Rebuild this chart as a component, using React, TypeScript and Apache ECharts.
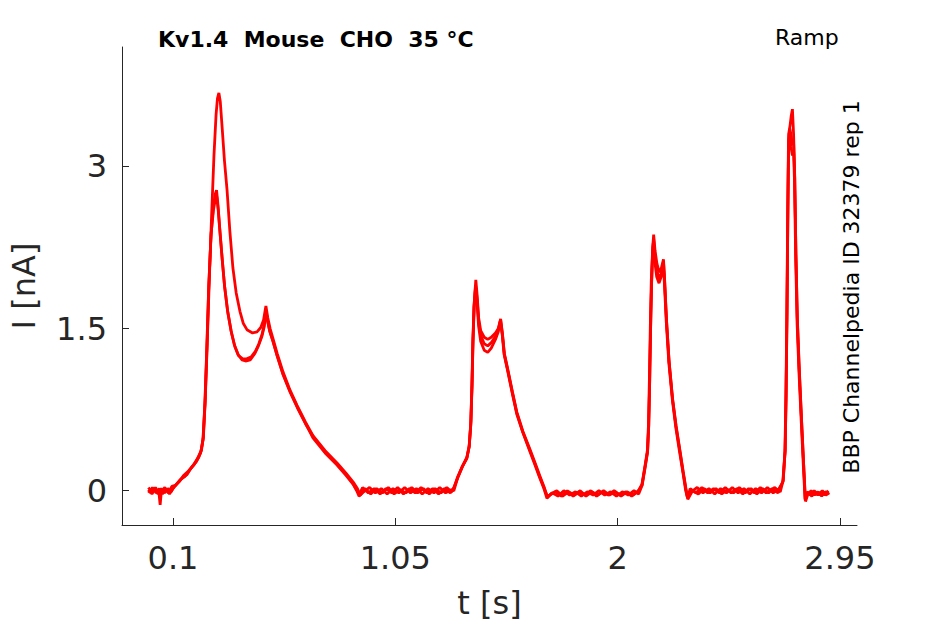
import { useEffect, useRef } from 'react';
import * as echarts from 'echarts';

// x ticks (s) and y ticks (nA) as printed on the axes
const xTicks = [0.1, 1.05, 2, 2.95];
const yTicks = [0, 1.5, 3];

const title = 'Kv1.4  Mouse  CHO  35 °C';
const protocol = 'Ramp';
const sideNote = 'BBP Channelpedia ID 32379 rep 1';

// three sweeps of the ramp protocol, [t (s), I (nA)]
const sweepA: [number, number][] = [
  [-0.005, 0.01], [0.01, -0.03], [0.025, 0.03], [0.04, -0.02], [0.045, -0.13], [0.05, -0.01], [0.065, 0.03], [0.08, -0.02],
  [0.095, 0.04], [0.11, 0.05], [0.13, 0.1], [0.15, 0.13], [0.17, 0.19], [0.19, 0.24], [0.21, 0.31], [0.222, 0.38],
  [0.23, 0.5], [0.238, 0.85], [0.246, 1.35], [0.255, 1.95], [0.265, 2.55], [0.275, 3.1], [0.284, 3.48], [0.29, 3.63],
  [0.296, 3.68], [0.302, 3.6], [0.31, 3.36], [0.32, 3.05], [0.331, 2.78], [0.343, 2.4], [0.356, 2.06], [0.37, 1.83],
  [0.386, 1.66], [0.4, 1.55], [0.416, 1.49], [0.44, 1.46], [0.459, 1.47], [0.475, 1.51], [0.487, 1.58], [0.497, 1.71],
  [0.505, 1.6], [0.515, 1.5], [0.527, 1.41], [0.545, 1.27], [0.57, 1.1], [0.6, 0.93], [0.63, 0.79], [0.665, 0.64],
  [0.698, 0.51], [0.75, 0.37], [0.8, 0.26], [0.84, 0.16], [0.87, 0.08], [0.888, 0.02], [0.9, -0.04],
  [0.92, 0.02], [0.945, -0.03], [0.97, 0.02], [0.995, -0.02], [1.02, 0.03], [1.045, -0.03], [1.07, 0.01], [1.095, -0.02],
  [1.12, 0.03], [1.145, -0.02], [1.17, 0.02], [1.195, -0.03], [1.22, 0.02], [1.245, -0.02], [1.27, 0.03], [1.29, -0.01],
  [1.3, 0.02], [1.315, 0.12], [1.335, 0.22], [1.355, 0.3], [1.365, 0.4], [1.372, 0.6], [1.377, 0.95], [1.381, 1.35],
  [1.386, 1.7], [1.394, 1.95], [1.4, 1.8], [1.406, 1.6], [1.415, 1.48], [1.43, 1.42], [1.445, 1.4], [1.46, 1.42],
  [1.478, 1.46], [1.49, 1.5], [1.5, 1.59], [1.508, 1.45], [1.516, 1.27], [1.53, 1.13], [1.55, 0.92], [1.569, 0.73],
  [1.595, 0.55], [1.624, 0.39], [1.645, 0.27], [1.667, 0.14], [1.685, 0.04], [1.7, -0.06],
  [1.72, -0.02], [1.745, -0.05], [1.77, 0.0], [1.795, -0.04], [1.82, -0.01], [1.845, -0.05], [1.87, -0.01], [1.895, -0.04],
  [1.92, 0.0], [1.945, -0.04], [1.97, -0.01], [1.995, -0.05], [2.02, -0.01], [2.045, -0.04], [2.07, 0.0], [2.09, -0.03],
  [2.105, 0.05], [2.118, 0.22], [2.128, 0.36], [2.133, 0.6], [2.137, 1.0], [2.141, 1.5], [2.145, 1.9], [2.15, 2.25],
  [2.154, 2.37], [2.16, 2.22], [2.168, 2.1], [2.178, 2.02], [2.187, 2.06], [2.196, 2.14], [2.201, 1.95], [2.209, 1.58],
  [2.22, 1.2], [2.235, 0.85], [2.25, 0.6], [2.265, 0.39], [2.28, 0.18], [2.292, 0.02], [2.3, -0.08],
  [2.32, 0.0], [2.345, -0.03], [2.37, 0.02], [2.395, -0.02], [2.42, 0.02], [2.445, -0.03], [2.47, 0.01], [2.495, -0.02],
  [2.52, 0.03], [2.545, -0.02], [2.57, 0.02], [2.595, -0.03], [2.62, 0.02], [2.645, -0.02], [2.67, 0.03], [2.695, -0.01],
  [2.708, 0.1], [2.716, 0.38], [2.72, 0.9], [2.724, 1.7], [2.728, 2.7], [2.731, 3.3], [2.737, 3.38], [2.742, 3.47],
  [2.747, 3.53], [2.752, 3.3], [2.757, 2.9], [2.762, 2.2], [2.768, 1.6], [2.776, 1.15], [2.786, 0.66], [2.795, 0.25],
  [2.803, -0.1], [2.815, -0.02], [2.83, -0.05], [2.845, -0.01], [2.86, -0.04], [2.875, 0.0], [2.89, -0.04], [2.905, -0.02],
];

const sweepB: [number, number][] = [
  [-0.005, -0.02], [0.012, 0.03], [0.028, -0.02], [0.042, 0.02], [0.055, -0.03], [0.07, 0.01], [0.085, -0.03], [0.1, 0.02],
  [0.12, 0.07], [0.14, 0.12], [0.16, 0.15], [0.18, 0.22], [0.2, 0.27], [0.218, 0.35], [0.228, 0.47], [0.236, 0.8],
  [0.244, 1.3], [0.252, 1.85], [0.262, 2.35], [0.272, 2.62], [0.28, 2.74], [0.286, 2.78], [0.292, 2.65], [0.3, 2.42],
  [0.31, 2.15], [0.32, 1.9], [0.333, 1.67], [0.348, 1.48], [0.362, 1.35], [0.378, 1.26], [0.395, 1.21], [0.41, 1.2],
  [0.43, 1.21], [0.45, 1.27], [0.465, 1.34], [0.48, 1.43], [0.49, 1.52], [0.497, 1.67], [0.504, 1.58], [0.513, 1.48],
  [0.525, 1.4], [0.545, 1.25], [0.57, 1.08], [0.6, 0.92], [0.63, 0.78], [0.665, 0.63], [0.698, 0.49], [0.75, 0.35],
  [0.8, 0.24], [0.84, 0.14], [0.87, 0.06], [0.885, 0.0], [0.895, -0.05],
  [0.915, -0.01], [0.94, 0.03], [0.965, -0.02], [0.99, 0.02], [1.015, -0.03], [1.04, 0.02], [1.065, -0.02], [1.09, 0.03],
  [1.115, -0.02], [1.14, 0.02], [1.165, -0.03], [1.19, 0.02], [1.215, -0.02], [1.24, 0.03], [1.265, -0.02], [1.29, 0.01],
  [1.3, 0.0], [1.318, 0.13], [1.338, 0.23], [1.356, 0.31], [1.366, 0.42], [1.373, 0.65], [1.378, 1.0], [1.382, 1.4],
  [1.387, 1.72], [1.393, 1.88], [1.399, 1.75], [1.406, 1.52], [1.415, 1.38], [1.43, 1.3], [1.445, 1.28], [1.46, 1.32],
  [1.478, 1.4], [1.49, 1.47], [1.499, 1.57], [1.507, 1.44], [1.515, 1.26], [1.53, 1.11], [1.55, 0.9], [1.569, 0.71],
  [1.595, 0.54], [1.624, 0.37], [1.645, 0.25], [1.667, 0.12], [1.685, 0.02], [1.698, -0.07],
  [1.715, -0.03], [1.74, 0.0], [1.765, -0.05], [1.79, -0.01], [1.815, -0.04], [1.84, 0.0], [1.865, -0.05], [1.89, -0.01],
  [1.915, -0.04], [1.94, 0.0], [1.965, -0.04], [1.99, -0.01], [2.015, -0.05], [2.04, -0.01], [2.065, -0.04], [2.09, 0.0],
  [2.104, 0.06], [2.117, 0.23], [2.127, 0.37], [2.132, 0.62], [2.136, 1.05], [2.14, 1.55], [2.144, 1.95], [2.149, 2.2],
  [2.153, 2.3], [2.159, 2.12], [2.167, 1.98], [2.177, 1.92], [2.186, 1.98], [2.195, 2.1], [2.2, 1.92], [2.208, 1.56],
  [2.219, 1.18], [2.234, 0.84], [2.249, 0.58], [2.264, 0.37], [2.279, 0.17], [2.291, 0.0], [2.298, -0.06],
  [2.315, -0.01], [2.34, 0.03], [2.365, -0.02], [2.39, 0.02], [2.415, -0.03], [2.44, 0.02], [2.465, -0.02], [2.49, 0.03],
  [2.515, -0.02], [2.54, 0.02], [2.565, -0.03], [2.59, 0.02], [2.615, -0.02], [2.64, 0.03], [2.665, -0.02], [2.69, 0.02],
  [2.706, 0.08], [2.715, 0.36], [2.719, 0.85], [2.723, 1.6], [2.727, 2.6], [2.73, 3.2], [2.735, 3.3], [2.741, 3.18],
  [2.747, 3.1], [2.752, 3.15], [2.756, 2.85], [2.761, 2.15], [2.767, 1.55], [2.775, 1.1], [2.785, 0.63], [2.794, 0.22],
  [2.801, -0.08], [2.812, -0.03], [2.827, 0.0], [2.842, -0.04], [2.857, -0.01], [2.872, -0.05], [2.887, -0.01], [2.902, -0.03],
];

const sweepC: [number, number][] = [
  [-0.005, 0.03], [0.008, -0.01], [0.022, 0.02], [0.036, -0.03], [0.05, 0.02], [0.064, -0.02], [0.078, 0.02], [0.092, -0.01],
  [0.105, 0.04], [0.125, 0.08], [0.145, 0.14], [0.165, 0.18], [0.185, 0.23], [0.205, 0.3], [0.22, 0.37], [0.229, 0.49],
  [0.237, 0.82], [0.245, 1.32], [0.253, 1.9], [0.263, 2.38], [0.273, 2.6], [0.281, 2.7], [0.287, 2.72], [0.293, 2.6],
  [0.301, 2.38], [0.311, 2.12], [0.321, 1.88], [0.334, 1.65], [0.35, 1.46], [0.365, 1.33], [0.38, 1.25], [0.398, 1.22],
  [0.415, 1.22], [0.435, 1.24], [0.452, 1.29], [0.467, 1.36], [0.481, 1.45], [0.49, 1.54], [0.497, 1.65], [0.505, 1.56],
  [0.514, 1.47], [0.526, 1.39], [0.546, 1.24], [0.571, 1.07], [0.601, 0.91], [0.631, 0.77], [0.666, 0.62], [0.699, 0.5],
  [0.75, 0.36], [0.8, 0.25], [0.84, 0.15], [0.868, 0.07], [0.885, 0.01], [0.897, -0.03],
  [0.91, 0.03], [0.935, -0.02], [0.96, 0.02], [0.985, -0.03], [1.01, 0.02], [1.035, -0.02], [1.06, 0.03], [1.085, -0.03],
  [1.11, 0.02], [1.135, -0.02], [1.16, 0.03], [1.185, -0.02], [1.21, 0.02], [1.235, -0.03], [1.26, 0.02], [1.285, -0.02],
  [1.3, 0.03], [1.317, 0.12], [1.336, 0.22], [1.356, 0.3], [1.366, 0.41], [1.373, 0.62], [1.378, 0.98], [1.382, 1.38],
  [1.387, 1.7], [1.393, 1.9], [1.4, 1.76], [1.407, 1.55], [1.416, 1.43], [1.43, 1.36], [1.445, 1.34], [1.46, 1.37],
  [1.478, 1.43], [1.49, 1.49], [1.5, 1.58], [1.508, 1.44], [1.516, 1.26], [1.53, 1.12], [1.55, 0.91], [1.569, 0.72],
  [1.595, 0.54], [1.624, 0.38], [1.645, 0.26], [1.667, 0.13], [1.685, 0.03], [1.699, -0.05],
  [1.71, -0.04], [1.735, -0.01], [1.76, -0.05], [1.785, 0.0], [1.81, -0.05], [1.835, -0.01], [1.86, -0.04], [1.885, 0.0],
  [1.91, -0.05], [1.935, -0.01], [1.96, -0.04], [1.985, 0.0], [2.01, -0.04], [2.035, -0.01], [2.06, -0.05], [2.085, -0.01],
  [2.104, 0.05], [2.117, 0.22], [2.128, 0.36], [2.133, 0.61], [2.137, 1.02], [2.141, 1.52], [2.145, 1.92], [2.15, 2.22],
  [2.154, 2.33], [2.16, 2.16], [2.168, 2.03], [2.178, 1.96], [2.187, 2.02], [2.196, 2.12], [2.201, 1.93], [2.209, 1.57],
  [2.22, 1.19], [2.235, 0.84], [2.25, 0.59], [2.265, 0.38], [2.28, 0.17], [2.292, 0.01], [2.299, -0.07],
  [2.31, 0.02], [2.335, -0.02], [2.36, 0.03], [2.385, -0.02], [2.41, 0.02], [2.435, -0.02], [2.46, 0.03], [2.485, -0.02],
  [2.51, 0.02], [2.535, -0.03], [2.56, 0.02], [2.585, -0.02], [2.61, 0.03], [2.635, -0.02], [2.66, 0.02], [2.685, -0.02],
  [2.707, 0.09], [2.716, 0.37], [2.72, 0.88], [2.724, 1.65], [2.728, 2.65], [2.731, 3.25], [2.736, 3.35], [2.742, 3.28],
  [2.747, 3.2], [2.752, 3.22], [2.757, 2.88], [2.762, 2.18], [2.768, 1.58], [2.776, 1.12], [2.786, 0.65], [2.795, 0.24],
  [2.802, -0.09], [2.81, -0.01], [2.825, -0.04], [2.84, 0.0], [2.855, -0.04], [2.87, -0.01], [2.885, -0.04], [2.9, 0.0],
];

const sweeps = [sweepA, sweepB, sweepC];

const INK = '#262626';
const FONT = '"DejaVu Sans", sans-serif';

export default function App() {
  const ref = useRef<HTMLDivElement>(null);

  useEffect(() => {
    if (!ref.current) return;
    const chart = echarts.init(ref.current, null, { renderer: 'svg' });

    chart.setOption({
      animation: false,
      backgroundColor: '#ffffff',
      grid: { left: 122, right: 88, top: 47, bottom: 98, containLabel: false },
      xAxis: {
        type: 'value',
        min: -0.118,
        max: 3.023,
        name: 't [s]',
        nameLocation: 'middle',
        nameGap: 62,
        nameTextStyle: { fontFamily: FONT, fontSize: 32, color: INK },
        axisLine: { show: true, onZero: false, lineStyle: { color: INK, width: 1 } },
        axisTick: { show: true, inside: true, length: 7, customValues: xTicks, lineStyle: { color: INK } },
        axisLabel: { customValues: xTicks, margin: 17, fontFamily: FONT, fontSize: 32, color: INK },
        splitLine: { show: false },
      },
      yAxis: {
        type: 'value',
        min: -0.317,
        max: 4.105,
        name: 'I [nA]',
        nameLocation: 'middle',
        nameGap: 82,
        nameTextStyle: { fontFamily: FONT, fontSize: 32, color: INK },
        axisLine: { show: true, onZero: false, lineStyle: { color: INK, width: 1 } },
        axisTick: { show: true, inside: true, length: 7, customValues: yTicks, lineStyle: { color: INK } },
        axisLabel: { customValues: yTicks, margin: 15, fontFamily: FONT, fontSize: 32, color: INK },
        splitLine: { show: false },
      },
      graphic: [
        {
          type: 'text',
          left: 158,
          top: 28,
          style: { text: title, fontFamily: FONT, fontSize: 22, fontWeight: 'bold', fill: '#000' },
        },
        {
          type: 'text',
          left: 775,
          top: 26,
          style: { text: protocol, fontFamily: FONT, fontSize: 22, fill: '#000' },
        },
        {
          type: 'text',
          x: 851,
          y: 287,
          rotation: Math.PI / 2,
          style: {
            text: sideNote,
            fontFamily: FONT,
            fontSize: 22,
            fill: '#000',
            align: 'center',
            verticalAlign: 'middle',
          },
        },
      ],
      series: sweeps.map((s, i) => ({
        name: `sweep ${i + 1}`,
        type: 'line',
        data: s,
        showSymbol: false,
        symbol: 'none',
        lineStyle: { color: '#ff0000', width: 2.8 },
        z: 2,
      })),
    });

    return () => chart.dispose();
  }, []);

  return <div ref={ref} style={{ position: 'absolute', left: 0, top: 0, width: 945, height: 624 }} />;
}
